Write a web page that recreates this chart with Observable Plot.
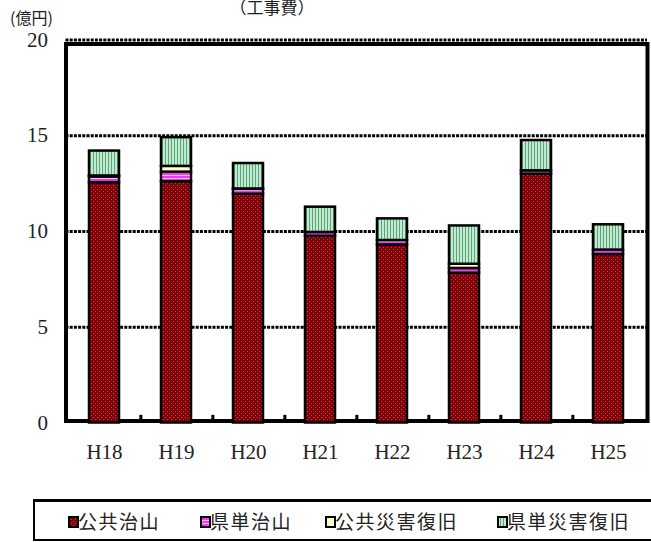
<!DOCTYPE html>
<html><head><meta charset="utf-8">
<script src="https://cdn.jsdelivr.net/npm/d3@7"></script>
<script src="https://cdn.jsdelivr.net/npm/@observablehq/plot@0.6"></script>
<style>
body{margin:0;background:#fff;overflow:hidden;width:651px;height:542px;position:relative}
#chart{position:absolute;left:0;top:0}
#legend{position:absolute;left:33px;top:499px;width:660px;height:37px;border:2px solid #000;border-top-width:3px;font-family:"Noto Sans CJK JP",sans-serif;font-size:19px;color:#222}
.sw{position:absolute;top:14px;width:11px;height:12px}
.lt{position:absolute;top:6px;line-height:26px;letter-spacing:1.5px;white-space:nowrap}
</style></head><body>
<svg width="0" height="0" style="position:absolute">
<defs>
<pattern id="pRed" width="4" height="4" patternUnits="userSpaceOnUse">
<rect width="4" height="4" fill="#850000"/><rect x="1" y="1" width="1" height="1" fill="#8a5aa8"/><rect x="3" y="3" width="1" height="1" fill="#b04050"/>
</pattern>
<pattern id="pPink" width="3" height="3" patternUnits="userSpaceOnUse">
<rect width="3" height="3" fill="#ff33ff"/><rect y="1" width="3" height="1" fill="#ffccff"/>
</pattern>
<pattern id="pCream" width="3" height="3" patternUnits="userSpaceOnUse">
<rect width="3" height="3" fill="#ffffcc"/>
</pattern>
<pattern id="pGreen" width="3" height="3" patternUnits="userSpaceOnUse">
<rect width="3" height="3" fill="#c4e8d2"/><rect width="1" height="3" fill="#55a874"/>
</pattern>
</defs></svg>
<div id="chart"></div>
<div id="legend"></div>
<script>
const years = ["H18","H19","H20","H21","H22","H23","H24","H25"];
const series = ["公共治山","県単治山","公共災害復旧","県単災害復旧"];
const koukyouChisan = [12.55, 12.6, 11.95, 9.75, 9.3, 7.83, 13.0, 8.8];
const kentanChisan = [0.3, 0.5, 0.25, 0.2, 0.23, 0.24, 0.17, 0.23];
const koukyouSaigai = [0.05, 0.3, 0.02, 0, 0, 0.22, 0, 0];
const kentanSaigai = [1.3, 1.5, 1.33, 1.32, 1.13, 2.0, 1.58, 1.32];
const yTicks = [0, 5, 10, 15, 20];
const gridValues = [5, 10, 15, 20];
const fills = ["url(#pRed)","url(#pPink)","url(#pCream)","url(#pGreen)"];
const titleText = "（工事費）";
const unitText = "(億円)";

const valuesBySeries = [koukyouChisan, kentanChisan, koukyouSaigai, kentanSaigai];
const data = [];
series.forEach((s, i) => years.forEach((y, j) => {
  const v = valuesBySeries[i][j];
  if (v > 0) data.push({year: y, series: s, value: v});
}));

const serif = "'Liberation Serif', 'DejaVu Serif', serif";
const cjk = "'Noto Sans CJK JP', sans-serif";

const chart = Plot.plot({
  width: 651, height: 490,
  marginLeft: 65.5, marginRight: 4, marginTop: 39.5, marginBottom: 67.5,
  style: {fontFamily: serif, fontSize: "21px", color: "#222", background: "transparent", overflow: "visible"},
  x: {domain: years, paddingInner: 0.59, paddingOuter: 0.295, label: null},
  y: {domain: [0, 20], label: null},
  color: {domain: series, range: fills},
  marks: [
    Plot.ruleY(gridValues, {stroke: "#000", strokeWidth: 3, strokeDasharray: "3,1.2"}),
    Plot.frame({stroke: "#000", strokeWidth: 4, insetTop: 4, insetBottom: 2}),
    Plot.ruleX(years.slice(0, -1), {x: d => d, dx: 36.35, y1: 0, y2: 0.4, stroke: "#000", strokeWidth: 3}),
    Plot.barY(data, {x: "year", y: "value", fill: "series", stroke: "#000", strokeWidth: 2.5}),
    Plot.axisY({ticks: yTicks, tickSize: 0, tickPadding: 18, fontSize: 21, fontFamily: serif}),
    Plot.axisX({tickSize: 0, tickPadding: 21, fontSize: 21, fontFamily: serif}),
    Plot.text([titleText], {frameAnchor: "top-left", textAnchor: "middle", dx: 206, dy: -38, fontFamily: cjk, fontSize: 17, fill: "#222"}),
    Plot.text([unitText], {frameAnchor: "top-left", textAnchor: "middle", dx: -34.5, dy: -27, fontFamily: cjk, fontSize: 16, fill: "#222"})
  ]
});
document.getElementById("chart").appendChild(chart);

const legend = document.getElementById("legend");
const swX = [33, 165, 290, 462];
series.forEach((s, i) => {
  const sw = document.createElementNS("http://www.w3.org/2000/svg", "svg");
  sw.setAttribute("class", "sw");
  sw.setAttribute("width", "11"); sw.setAttribute("height", "12");
  sw.style.left = swX[i] + "px";
  sw.innerHTML = `<rect x="1" y="1" width="9" height="10" fill="${fills[i]}" stroke="#000" stroke-width="2"/>`;
  legend.appendChild(sw);
  const t = document.createElement("div");
  t.className = "lt";
  t.style.left = (swX[i] + 10) + "px";
  t.textContent = s;
  legend.appendChild(t);
});
</script></body></html>
